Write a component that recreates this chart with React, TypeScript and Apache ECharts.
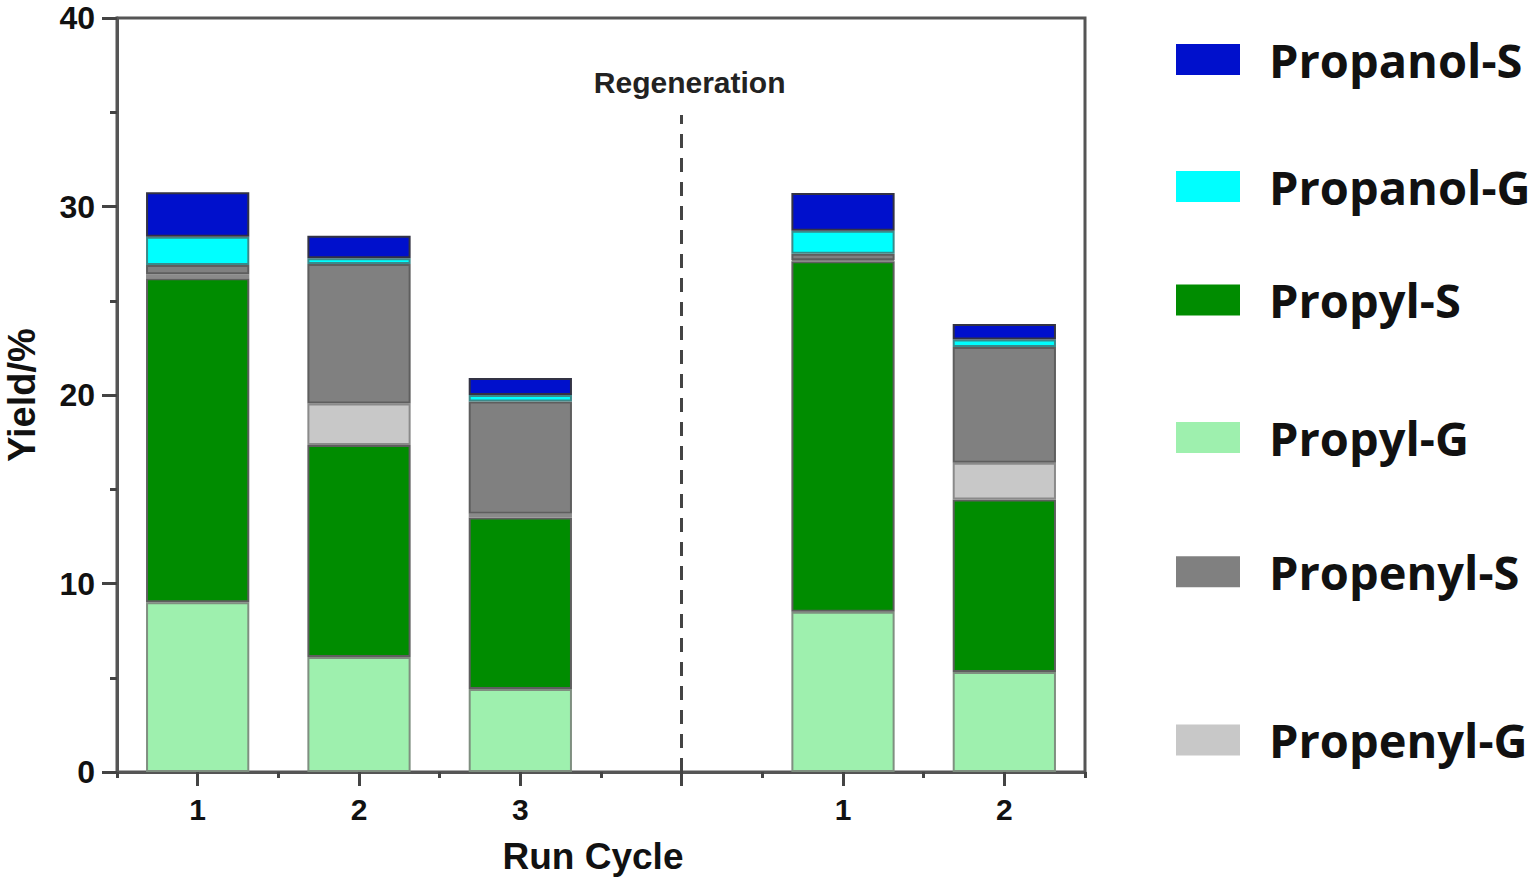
import React, { useEffect, useRef } from "react";
import * as echarts from "echarts";

const categories = ["1", "2", "3", "", "1", "2"];
const propylG = [9.0, 6.1, 4.4, null, 8.5, 5.3];
const propylS = [17.2, 11.25, 9.1, null, 18.6, 9.15];
const propenylG = [0.2, 2.2, 0.2, null, 0.05, 1.95];
const propenylS = [0.5, 7.4, 5.95, null, 0.35, 6.15];
const propanolG = [1.5, 0.3, 0.35, null, 1.22, 0.4];
const propanolS = [2.35, 1.2, 0.9, null, 2.0, 0.82];
const yTicks = [0, 10, 20, 30, 40];
const regenerationAt = 3;
const regenerationTop = 34.85;

const FONT = "'Liberation Sans', Arial, sans-serif";

export default function App() {
  const ref = useRef<HTMLDivElement>(null);
  useEffect(() => {
    if (!ref.current) return;
    const chart = echarts.init(ref.current, null, { renderer: "svg" });
    const barBase = {
      type: "bar",
      stack: "total",
      barWidth: "64%",
      xAxisIndex: 0,
      yAxisIndex: 0,
    };
    const border = { borderColor: "#5e5e5e", borderWidth: 2 };
    const series: any[] = [
      { ...barBase, name: "Propyl-G", data: propylG, itemStyle: { color: "#9ef0ae", ...border, borderColor: "#7f8f80" },
        markLine: {
          silent: true,
          symbol: "none",
          lineStyle: { type: [14, 10], color: "#444", width: 3 },
          label: {
            show: true,
            position: "end",
            formatter: "Regeneration",
            fontFamily: FONT,
            fontWeight: "bold",
            fontSize: 30,
            color: "#222",
            distance: 18,
            padding: [0, 0, 0, 16],
          },
          data: [[{ coord: [regenerationAt, 0] }, { coord: [regenerationAt, regenerationTop] }]],
        },
      },
      { ...barBase, name: "Propyl-S", data: propylS, itemStyle: { color: "#008c00", ...border } },
      { ...barBase, name: "Propenyl-G", data: propenylG, itemStyle: { color: "#c8c8c8", ...border, borderColor: "#8a8a8a" } },
      { ...barBase, name: "Propenyl-S", data: propenylS, itemStyle: { color: "#808080", ...border } },
      { ...barBase, name: "Propanol-G", data: propanolG, itemStyle: { color: "#00ffff", ...border, borderColor: "#3a8a8a" } },
      { ...barBase, name: "Propanol-S", data: propanolS, itemStyle: { color: "#0010cc", ...border, borderColor: "#334" } },
    ];

    const legendOrder = ["Propanol-S", "Propanol-G", "Propyl-S", "Propyl-G", "Propenyl-S", "Propenyl-G"];
    const legendCenters = [59.5, 186.5, 300, 437.5, 571.7, 740];
    const legends = legendOrder.map((name, i) => ({
      data: [name],
      left: 1176,
      top: legendCenters[i] - 24,
      orient: "vertical",
      padding: 0,
      icon: "rect",
      itemWidth: 64,
      itemHeight: 31,
      selectedMode: false,
      itemStyle: { borderWidth: 0 },
      textStyle: {
        fontFamily: "'Open Sans', sans-serif",
        fontWeight: "bold",
        fontSize: 47,
        lineHeight: 48,
        color: "#111",
        padding: [0, 0, 0, 24],
      },
    }));

    chart.setOption({
      animation: false,
      backgroundColor: "#ffffff",
      grid: {
        left: 117,
        right: 451,
        top: 18,
        bottom: 114,
        outerBoundsMode: "none",
        containLabel: false,
        show: true,
        borderColor: "#555",
        borderWidth: 3,
        backgroundColor: "transparent",
      },
      legend: legends,
      xAxis: [
        {
          type: "category",
          data: categories,
          position: "bottom",
          name: "Run Cycle",
          nameLocation: "middle",
          nameGap: 66,
          nameTextStyle: { fontFamily: FONT, fontWeight: "bold", fontSize: 37, color: "#111", padding: [0, 16, 0, 0] },
          axisLine: { show: true, lineStyle: { color: "#555", width: 3 } },
          axisTick: { show: true, alignWithLabel: true, interval: 0, length: 14, lineStyle: { color: "#444", width: 3 } },
          axisLabel: { interval: 0, margin: 22, fontFamily: FONT, fontWeight: "bold", fontSize: 30, color: "#111" },
          splitLine: { show: false },
        },
        {
          type: "category",
          data: categories,
          position: "bottom",
          axisLine: { show: false },
          axisTick: { show: true, interval: 0, length: 6, lineStyle: { color: "#444", width: 3 } },
          axisLabel: { show: false },
          splitLine: { show: false },
        },
      ],
      yAxis: [
        {
          type: "value",
          min: yTicks[0],
          max: yTicks[yTicks.length - 1],
          interval: yTicks[1] - yTicks[0],
          name: "Yield/%",
          nameLocation: "middle",
          nameGap: 76,
          nameTextStyle: { fontFamily: FONT, fontWeight: "bold", fontSize: 38, color: "#111" },
          axisLine: { show: true, lineStyle: { color: "#555", width: 3 } },
          axisTick: { show: true, length: 15, lineStyle: { color: "#444", width: 3 } },
          minorTick: { show: true, splitNumber: 2, length: 7, lineStyle: { color: "#444", width: 3 } },
          axisLabel: { margin: 22, fontFamily: FONT, fontWeight: "bold", fontSize: 32, color: "#111" },
          splitLine: { show: false },
        },
      ],
      series,
    });
    return () => chart.dispose();
  }, []);
  return (
    <div
      ref={ref}
      style={{ position: "fixed", left: 0, top: 0, width: 1536, height: 886, background: "#fff" }}
    />
  );
}
